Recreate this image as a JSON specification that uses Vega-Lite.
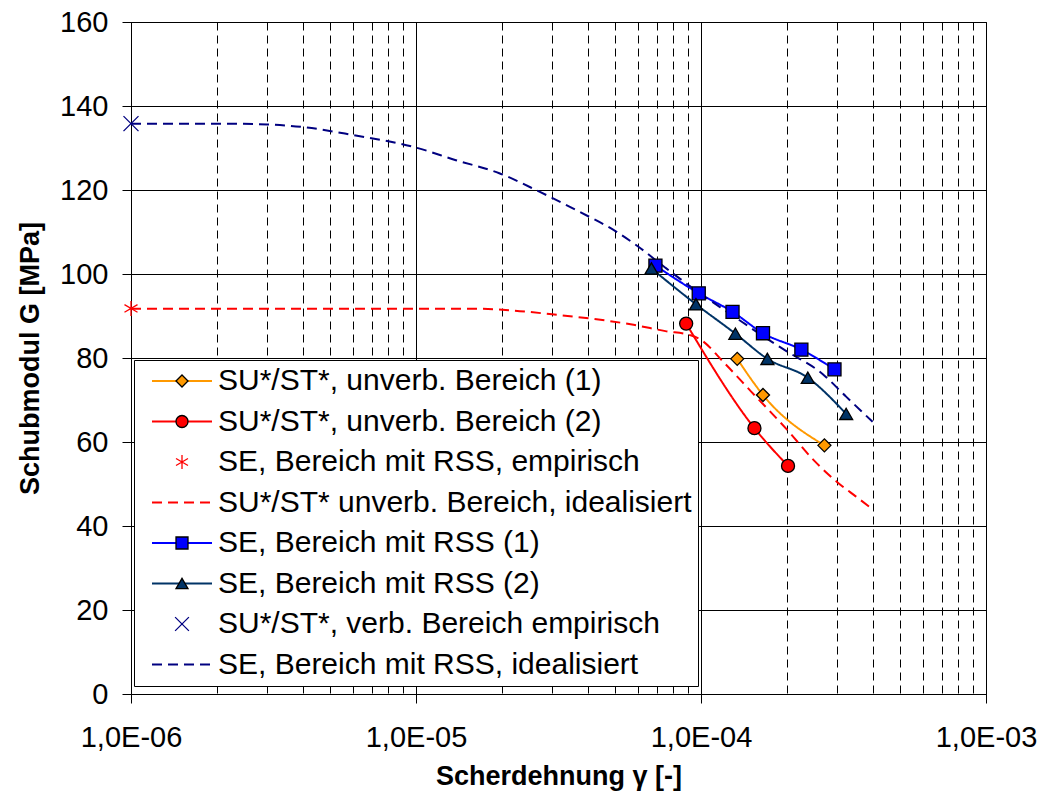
{
  "$schema": "https://vega.github.io/schema/vega-lite/v6.json",
  "width": 855,
  "height": 672,
  "autosize": {"type": "none"},
  "padding": {"left": 131, "top": 22, "right": 55, "bottom": 102},
  "background": "white",
  "config": {
    "font": "Liberation Sans",
    "view": {"stroke": "black", "strokeWidth": 1},
    "axis": {"labelColor": "black", "titleColor": "black", "domainColor": "black", "tickColor": "black", "labelFont": "Liberation Sans", "titleFont": "Liberation Sans"}
  },
  "datasets": {
    "curves": [
      {"s": "SU*/ST*, unverb. Bereich (1)", "x": 1.34e-4, "g": 79.8},
      {"s": "SU*/ST*, unverb. Bereich (1)", "x": 1.65e-4, "g": 71.2},
      {"s": "SU*/ST*, unverb. Bereich (1)", "x": 2.71e-4, "g": 59.2},
      {"s": "SU*/ST*, unverb. Bereich (2)", "x": 8.87e-5, "g": 88.2},
      {"s": "SU*/ST*, unverb. Bereich (2)", "x": 1.54e-4, "g": 63.3},
      {"s": "SU*/ST*, unverb. Bereich (2)", "x": 2.02e-4, "g": 54.3},
      {"s": "SU*/ST* unverb. Bereich, idealisiert", "x": 1e-6, "g": 91.7},
      {"s": "SU*/ST* unverb. Bereich, idealisiert", "x": 1e-5, "g": 91.7},
      {"s": "SU*/ST* unverb. Bereich, idealisiert", "x": 1.7e-5, "g": 91.7},
      {"s": "SU*/ST* unverb. Bereich, idealisiert", "x": 2.2e-5, "g": 91.3},
      {"s": "SU*/ST* unverb. Bereich, idealisiert", "x": 3e-5, "g": 90.4},
      {"s": "SU*/ST* unverb. Bereich, idealisiert", "x": 4.2e-5, "g": 89.3},
      {"s": "SU*/ST* unverb. Bereich, idealisiert", "x": 5.8e-5, "g": 87.9},
      {"s": "SU*/ST* unverb. Bereich, idealisiert", "x": 7.5e-5, "g": 86.4},
      {"s": "SU*/ST* unverb. Bereich, idealisiert", "x": 9.2e-5, "g": 85.4},
      {"s": "SU*/ST* unverb. Bereich, idealisiert", "x": 1e-4, "g": 84.3},
      {"s": "SU*/ST* unverb. Bereich, idealisiert", "x": 1.2e-4, "g": 79.0},
      {"s": "SU*/ST* unverb. Bereich, idealisiert", "x": 1.5e-4, "g": 72.0},
      {"s": "SU*/ST* unverb. Bereich, idealisiert", "x": 2e-4, "g": 63.0},
      {"s": "SU*/ST* unverb. Bereich, idealisiert", "x": 2.5e-4, "g": 55.5},
      {"s": "SU*/ST* unverb. Bereich, idealisiert", "x": 3e-4, "g": 50.5},
      {"s": "SU*/ST* unverb. Bereich, idealisiert", "x": 3.5e-4, "g": 47.0},
      {"s": "SU*/ST* unverb. Bereich, idealisiert", "x": 4e-4, "g": 44.0},
      {"s": "SE, Bereich mit RSS (1)", "x": 6.92e-5, "g": 102.0},
      {"s": "SE, Bereich mit RSS (1)", "x": 9.82e-5, "g": 95.4},
      {"s": "SE, Bereich mit RSS (1)", "x": 1.29e-4, "g": 91.0},
      {"s": "SE, Bereich mit RSS (1)", "x": 1.65e-4, "g": 85.9},
      {"s": "SE, Bereich mit RSS (1)", "x": 2.25e-4, "g": 82.0},
      {"s": "SE, Bereich mit RSS (1)", "x": 2.94e-4, "g": 77.3},
      {"s": "SE, Bereich mit RSS (2)", "x": 6.7e-5, "g": 101.3},
      {"s": "SE, Bereich mit RSS (2)", "x": 9.6e-5, "g": 92.8},
      {"s": "SE, Bereich mit RSS (2)", "x": 1.32e-4, "g": 85.8},
      {"s": "SE, Bereich mit RSS (2)", "x": 1.71e-4, "g": 79.8},
      {"s": "SE, Bereich mit RSS (2)", "x": 2.37e-4, "g": 75.3},
      {"s": "SE, Bereich mit RSS (2)", "x": 3.23e-4, "g": 66.7},
      {"s": "SE, Bereich mit RSS, idealisiert", "x": 1e-6, "g": 135.8},
      {"s": "SE, Bereich mit RSS, idealisiert", "x": 2e-6, "g": 135.8},
      {"s": "SE, Bereich mit RSS, idealisiert", "x": 3e-6, "g": 135.6},
      {"s": "SE, Bereich mit RSS, idealisiert", "x": 4e-6, "g": 135.0},
      {"s": "SE, Bereich mit RSS, idealisiert", "x": 6e-6, "g": 133.1},
      {"s": "SE, Bereich mit RSS, idealisiert", "x": 1e-5, "g": 130.1},
      {"s": "SE, Bereich mit RSS, idealisiert", "x": 1.38e-5, "g": 127.1},
      {"s": "SE, Bereich mit RSS, idealisiert", "x": 1.96e-5, "g": 124.0},
      {"s": "SE, Bereich mit RSS, idealisiert", "x": 2.71e-5, "g": 119.6},
      {"s": "SE, Bereich mit RSS, idealisiert", "x": 3.75e-5, "g": 114.8},
      {"s": "SE, Bereich mit RSS, idealisiert", "x": 5.04e-5, "g": 110.1},
      {"s": "SE, Bereich mit RSS, idealisiert", "x": 6e-5, "g": 106.6},
      {"s": "SE, Bereich mit RSS, idealisiert", "x": 7.5e-5, "g": 101.5},
      {"s": "SE, Bereich mit RSS, idealisiert", "x": 1e-4, "g": 95.2},
      {"s": "SE, Bereich mit RSS, idealisiert", "x": 1.26e-4, "g": 90.6},
      {"s": "SE, Bereich mit RSS, idealisiert", "x": 1.74e-4, "g": 84.2},
      {"s": "SE, Bereich mit RSS, idealisiert", "x": 2e-4, "g": 81.6},
      {"s": "SE, Bereich mit RSS, idealisiert", "x": 2.67e-4, "g": 76.2},
      {"s": "SE, Bereich mit RSS, idealisiert", "x": 3.23e-4, "g": 70.8},
      {"s": "SE, Bereich mit RSS, idealisiert", "x": 4e-4, "g": 64.8}
    ],
    "markers": [
      {"s": "SU*/ST*, unverb. Bereich (1)", "x": 1.34e-4, "g": 79.8},
      {"s": "SU*/ST*, unverb. Bereich (1)", "x": 1.65e-4, "g": 71.2},
      {"s": "SU*/ST*, unverb. Bereich (1)", "x": 2.71e-4, "g": 59.2},
      {"s": "SU*/ST*, unverb. Bereich (2)", "x": 8.87e-5, "g": 88.2},
      {"s": "SU*/ST*, unverb. Bereich (2)", "x": 1.54e-4, "g": 63.3},
      {"s": "SU*/ST*, unverb. Bereich (2)", "x": 2.02e-4, "g": 54.3},
      {"s": "SE, Bereich mit RSS, empirisch", "x": 1e-6, "g": 91.8},
      {"s": "SE, Bereich mit RSS (1)", "x": 6.92e-5, "g": 102.0},
      {"s": "SE, Bereich mit RSS (1)", "x": 9.82e-5, "g": 95.4},
      {"s": "SE, Bereich mit RSS (1)", "x": 1.29e-4, "g": 91.0},
      {"s": "SE, Bereich mit RSS (1)", "x": 1.65e-4, "g": 85.9},
      {"s": "SE, Bereich mit RSS (1)", "x": 2.25e-4, "g": 82.0},
      {"s": "SE, Bereich mit RSS (1)", "x": 2.94e-4, "g": 77.3},
      {"s": "SE, Bereich mit RSS (2)", "x": 6.7e-5, "g": 101.3},
      {"s": "SE, Bereich mit RSS (2)", "x": 9.6e-5, "g": 92.8},
      {"s": "SE, Bereich mit RSS (2)", "x": 1.32e-4, "g": 85.8},
      {"s": "SE, Bereich mit RSS (2)", "x": 1.71e-4, "g": 79.8},
      {"s": "SE, Bereich mit RSS (2)", "x": 2.37e-4, "g": 75.3},
      {"s": "SE, Bereich mit RSS (2)", "x": 3.23e-4, "g": 66.7},
      {"s": "SU*/ST*, verb. Bereich empirisch", "x": 1e-6, "g": 135.8}
    ]
  },
  "encoding": {
    "x": {
      "field": "x", "type": "quantitative",
      "scale": {"type": "log", "domain": [1e-6, 1e-3], "nice": false},
      "axis": {
        "title": "Scherdehnung γ [-]",
        "values": [1e-6, 2e-6, 3e-6, 4e-6, 5e-6, 6e-6, 7e-6, 8e-6, 9e-6, 1e-5, 2e-5, 3e-5, 4e-5, 5e-5, 6e-5, 7e-5, 8e-5, 9e-5, 1e-4, 2e-4, 3e-4, 4e-4, 5e-4, 6e-4, 7e-4, 8e-4, 9e-4, 1e-3],
        "labelExpr": "abs(log(datum.value)/LN10 - round(log(datum.value)/LN10)) < 0.01 ? '1,0E-0' + (-round(log(datum.value)/LN10)) : ''",
        "labelFontSize": 29, "labelPadding": 20, "labelOverlap": false, "labelFlush": false,
        "tickSize": 9,
        "tickColor": {"condition": {"test": "abs(log(datum.value)/LN10 - round(log(datum.value)/LN10)) < 0.01", "value": "black"}, "value": "transparent"},
        "grid": true, "gridColor": "black", "gridWidth": 1, "gridOpacity": 1,
        "gridDash": {"condition": {"test": "abs(log(datum.value)/LN10 - round(log(datum.value)/LN10)) < 0.01", "value": []}, "value": [8, 5]},
        "domainColor": "black", "domainWidth": 1,
        "titleFontSize": 27, "titleFontWeight": "bold", "titlePadding": 11
      }
    },
    "y": {
      "field": "g", "type": "quantitative",
      "scale": {"domain": [0, 160], "nice": false},
      "axis": {
        "title": "Schubmodul G [MPa]",
        "values": [0, 20, 40, 60, 80, 100, 120, 140, 160],
        "labelFontSize": 29, "labelPadding": 14,
        "tickSize": 9, "tickColor": "black",
        "grid": true, "gridColor": "black", "gridWidth": 1, "gridOpacity": 1,
        "domainColor": "black",
        "titleFontSize": 27, "titleFontWeight": "bold", "titlePadding": 15
      }
    }
  },
  "layer": [
    {
      "data": {"name": "curves"},
      "mark": {"type": "line", "interpolate": "monotone", "strokeWidth": 2},
      "encoding": {
        "color": {
          "field": "s", "type": "nominal",
          "scale": {
            "domain": ["SU*/ST*, unverb. Bereich (1)", "SU*/ST*, unverb. Bereich (2)", "SE, Bereich mit RSS, empirisch", "SU*/ST* unverb. Bereich, idealisiert", "SE, Bereich mit RSS (1)", "SE, Bereich mit RSS (2)", "SU*/ST*, verb. Bereich empirisch", "SE, Bereich mit RSS, idealisiert"],
            "range": ["#FF9900", "#FF0000", "#FF0000", "#FF0000", "#0000FF", "#003366", "#000080", "#000080"]
          },
          "legend": {
            "title": null, "orient": "none", "legendX": 3, "legendY": 338,
            "padding": 6, "fillColor": "white", "strokeColor": "black",
            "labelFontSize": 30, "labelFont": "Liberation Sans", "labelColor": "black", "labelLimit": 0,
            "rowPadding": 10.5, "symbolSize": 144, "symbolOffset": 27, "labelOffset": 21,
            "symbolType": "M-5,0H5", "symbolStrokeWidth": 2
          }
        },
        "strokeDash": {
          "field": "s", "type": "nominal",
          "scale": {
            "domain": ["SU*/ST*, unverb. Bereich (1)", "SU*/ST*, unverb. Bereich (2)", "SE, Bereich mit RSS, empirisch", "SU*/ST* unverb. Bereich, idealisiert", "SE, Bereich mit RSS (1)", "SE, Bereich mit RSS (2)", "SU*/ST*, verb. Bereich empirisch", "SE, Bereich mit RSS, idealisiert"],
            "range": [[1, 0], [1, 0], [0, 1000], [10, 6], [1, 0], [1, 0], [0, 1000], [10, 6]]
          },
          "legend": {
            "title": null, "orient": "none", "legendX": 3, "legendY": 338,
            "padding": 6, "fillColor": "white", "strokeColor": "black",
            "labelFontSize": 30, "labelFont": "Liberation Sans", "labelColor": "black", "labelLimit": 0,
            "rowPadding": 10.5, "symbolSize": 144, "symbolOffset": 27, "labelOffset": 21,
            "symbolType": "M-5,0H5", "symbolStrokeWidth": 2
          }
        }
      }
    },
    {
      "data": {"name": "markers"},
      "mark": {"type": "point", "filled": true, "size": 170, "strokeWidth": 1.3, "opacity": 1},
      "encoding": {
        "shape": {
          "field": "s", "type": "nominal",
          "scale": {
            "domain": ["SU*/ST*, unverb. Bereich (1)", "SU*/ST*, unverb. Bereich (2)", "SE, Bereich mit RSS, empirisch", "SU*/ST* unverb. Bereich, idealisiert", "SE, Bereich mit RSS (1)", "SE, Bereich mit RSS (2)", "SU*/ST*, verb. Bereich empirisch", "SE, Bereich mit RSS, idealisiert", "zz"],
            "range": ["diamond", "circle", "M0,-1.15V1.15M-1,-0.58L1,0.58M-1,0.58L1,-0.58", "M0,0", "square", "triangle-up", "M-1.15,-1.15L1.15,1.15M-1.15,1.15L1.15,-1.15", "M0,0", "M0,0"]
          },
          "legend": {
            "title": null, "orient": "none", "legendX": 3, "legendY": 338,
            "padding": 6,
            "values": ["SU*/ST*, unverb. Bereich (1)", "SU*/ST*, unverb. Bereich (2)", "SE, Bereich mit RSS, empirisch", "SU*/ST* unverb. Bereich, idealisiert", "SE, Bereich mit RSS (1)", "SE, Bereich mit RSS (2)", "SU*/ST*, verb. Bereich empirisch", "SE, Bereich mit RSS, idealisiert"],
            "labelFontSize": 30, "labelFont": "Liberation Sans", "labelOpacity": 0, "labelLimit": 0,
            "rowPadding": 10.5, "symbolSize": 144, "symbolOffset": 27, "labelOffset": 21,
            "symbolStrokeWidth": 1.3
          }
        },
        "fill": {
          "field": "s", "type": "nominal",
          "scale": {
            "domain": ["SU*/ST*, unverb. Bereich (1)", "SU*/ST*, unverb. Bereich (2)", "SE, Bereich mit RSS, empirisch", "SU*/ST* unverb. Bereich, idealisiert", "SE, Bereich mit RSS (1)", "SE, Bereich mit RSS (2)", "SU*/ST*, verb. Bereich empirisch", "SE, Bereich mit RSS, idealisiert", "zz"],
            "range": ["#FF9900", "#FF0000", "transparent", "transparent", "#0000FF", "#003366", "transparent", "transparent", "transparent"]
          },
          "legend": {
            "title": null, "orient": "none", "legendX": 3, "legendY": 338,
            "padding": 6,
            "values": ["SU*/ST*, unverb. Bereich (1)", "SU*/ST*, unverb. Bereich (2)", "SE, Bereich mit RSS, empirisch", "SU*/ST* unverb. Bereich, idealisiert", "SE, Bereich mit RSS (1)", "SE, Bereich mit RSS (2)", "SU*/ST*, verb. Bereich empirisch", "SE, Bereich mit RSS, idealisiert"],
            "labelFontSize": 30, "labelFont": "Liberation Sans", "labelOpacity": 0, "labelLimit": 0,
            "rowPadding": 10.5, "symbolSize": 144, "symbolOffset": 27, "labelOffset": 21,
            "symbolStrokeWidth": 1.3
          }
        },
        "stroke": {
          "field": "s", "type": "nominal",
          "scale": {
            "domain": ["SU*/ST*, unverb. Bereich (1)", "SU*/ST*, unverb. Bereich (2)", "SE, Bereich mit RSS, empirisch", "SU*/ST* unverb. Bereich, idealisiert", "SE, Bereich mit RSS (1)", "SE, Bereich mit RSS (2)", "SU*/ST*, verb. Bereich empirisch", "SE, Bereich mit RSS, idealisiert", "zz"],
            "range": ["black", "black", "#FF0000", "transparent", "black", "black", "#000080", "transparent", "transparent"]
          },
          "legend": {
            "title": null, "orient": "none", "legendX": 3, "legendY": 338,
            "padding": 6,
            "values": ["SU*/ST*, unverb. Bereich (1)", "SU*/ST*, unverb. Bereich (2)", "SE, Bereich mit RSS, empirisch", "SU*/ST* unverb. Bereich, idealisiert", "SE, Bereich mit RSS (1)", "SE, Bereich mit RSS (2)", "SU*/ST*, verb. Bereich empirisch", "SE, Bereich mit RSS, idealisiert"],
            "labelFontSize": 30, "labelFont": "Liberation Sans", "labelOpacity": 0, "labelLimit": 0,
            "rowPadding": 10.5, "symbolSize": 144, "symbolOffset": 27, "labelOffset": 21,
            "symbolStrokeWidth": 1.3
          }
        }
      }
    }
  ]
}
